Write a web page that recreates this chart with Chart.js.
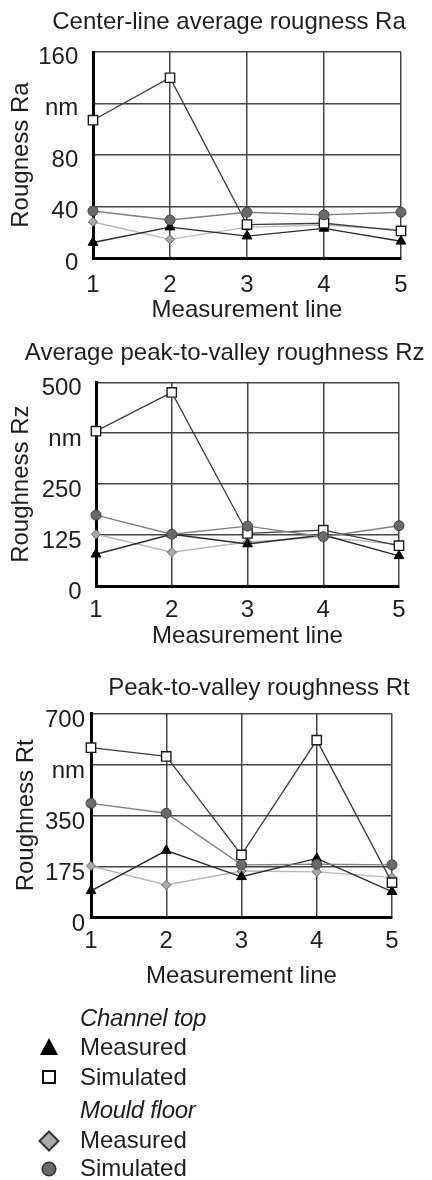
<!DOCTYPE html>
<html><head><meta charset="utf-8">
<script src="https://cdn.jsdelivr.net/npm/chart.js@4.4.1/dist/chart.umd.min.js"></script>
<style>
html,body{margin:0;padding:0;background:#fff;width:432px;height:1180px;overflow:hidden;position:relative;}
canvas{position:absolute;left:0;}
#legend{position:absolute;left:0;top:0;width:432px;height:1180px;font-family:"Liberation Sans",Arial,sans-serif;font-size:24px;color:#1e1e1e;}
.row{position:absolute;left:80px;white-space:nowrap;line-height:28px;height:28px;}
.hdr{font-style:italic;letter-spacing:-0.3px;}
.mk{position:absolute;}
</style></head><body>
<canvas id="c1" width="432" height="330" style="top:0px"></canvas>
<canvas id="c2" width="432" height="330" style="top:330px"></canvas>
<canvas id="c3" width="432" height="340" style="top:660px"></canvas>
<div id="legend">
  <div class="row hdr" style="top:1004px">Channel top</div>
  <svg class="mk" style="left:40px;top:1038px" width="18" height="17"><polygon points="9,0 18,17 0,17" fill="#000"/></svg>
  <div class="row" style="top:1033px">Measured</div>
  <svg class="mk" style="left:42px;top:1070px" width="14" height="14"><rect x="1" y="1" width="12" height="12" fill="#fff" stroke="#111" stroke-width="2"/></svg>
  <div class="row" style="top:1063px">Simulated</div>
  <div class="row hdr" style="top:1096px">Mould floor</div>
  <svg class="mk" style="left:38px;top:1130px" width="22" height="22"><polygon points="11,1.5 20.5,11 11,20.5 1.5,11" fill="#aaa" stroke="#333" stroke-width="2"/></svg>
  <div class="row" style="top:1126px">Measured</div>
  <svg class="mk" style="left:41px;top:1161px" width="16" height="16"><circle cx="8" cy="8" r="6.8" fill="#6a6a6a" stroke="#333" stroke-width="1.5"/></svg>
  <div class="row" style="top:1154px">Simulated</div>
</div>
<script>
// ---- data ----
const measurementLines = ['1', '2', '3', '4', '5'];

// Center-line average roughness Ra (nm)
const raChannelTopMeasured = [12, 24, 17, 23, 13];
const raChannelTopSimulated = [107, 140, 26, 27, 21];
const raMouldFloorMeasured = [28, 14.5, 24, 25.5, 22];
const raMouldFloorSimulated = [36.5, 29.5, 35.5, 33.5, 35.5];
const raTickLabels = ['0', '40', '80', 'nm', '160'];

// Average peak-to-valley roughness Rz (nm)
const rzChannelTopMeasured = [78, 127, 103, 125, 74];
const rzChannelTopSimulated = [380, 475, 129, 137, 99];
const rzMouldFloorMeasured = [127, 83, 108, 120, 102];
const rzMouldFloorSimulated = [174, 127, 147, 121, 148];
const rzTickLabels = ['0', '125', '250', 'nm', '500'];

// Peak-to-valley roughness Rt (nm)
const rtChannelTopMeasured = [91, 229, 139, 202, 88];
const rtChannelTopSimulated = [582, 552, 214, 608, 119];
const rtMouldFloorMeasured = [176, 111, 159, 156, 137];
const rtMouldFloorSimulated = [391, 357, 180, 182, 180];
const rtTickLabels = ['0', '175', '350', 'nm', '700'];

// ---- styling ----
const FONT = '"Liberation Sans", Arial, sans-serif';
const TXT = '#1e1e1e';
const GRID = '#454545';

function datasets(topM, topS, floorM, floorS) {
  return [
    { label: 'Channel top Measured', data: topM, order: 2,
      borderColor: '#2a2a2a', borderWidth: 1.4, pointStyle: 'triangle', pointRadius: 5.6,
      pointBackgroundColor: '#000', pointBorderColor: '#000', pointBorderWidth: 1 },
    { label: 'Channel top Simulated', data: topS, order: 1,
      borderColor: '#3c3c3c', borderWidth: 1.3, pointStyle: 'rect', pointRadius: 6.6,
      pointBackgroundColor: '#fff', pointBorderColor: '#1a1a1a', pointBorderWidth: 1.4 },
    { label: 'Mould floor Measured', data: floorM, order: 3,
      borderColor: '#b8b8b8', borderWidth: 1.4, pointStyle: 'rectRot', pointRadius: 4.6,
      pointBackgroundColor: '#a8a8a8', pointBorderColor: '#6a6a6a', pointBorderWidth: 1 },
    { label: 'Mould floor Simulated', data: floorS, order: 0,
      borderColor: '#808080', borderWidth: 1.4, pointStyle: 'circle', pointRadius: 5,
      pointBackgroundColor: '#6a6a6a', pointBorderColor: '#444', pointBorderWidth: 1 }
  ].map(d => Object.assign(d, { tension: 0, fill: false, clip: false, pointHoverRadius: d.pointRadius }));
}

function makeChart(id, c) {
  const font = { family: FONT, size: 24, weight: 'normal' };
  new Chart(document.getElementById(id), {
    type: 'line',
    data: { labels: measurementLines, datasets: datasets(c.topM, c.topS, c.floorM, c.floorS) },
    options: {
      responsive: false, animation: false, devicePixelRatio: 1,
      layout: { padding: { left: 0, right: c.rightPad, top: 0, bottom: 0 } },
      plugins: {
        legend: { display: false }, tooltip: { enabled: false },
        title: { display: true, text: c.title, color: TXT, font: font,
                 padding: { top: c.tTop, bottom: c.tBot } }
      },
      scales: {
        x: {
          type: 'category', offset: false,
          grid: { color: GRID, lineWidth: 1.5, drawTicks: false },
          border: { color: '#000', width: 3 },
          ticks: { color: TXT, font: font, padding: c.xTickPad, maxRotation: 0, autoSkip: false },
          title: { display: true, text: 'Measurement line', color: TXT, font: font,
                   padding: { top: 0, bottom: c.xTitlePad } },
          afterFit: s => { s.height = c.xH; }
        },
        y: {
          min: 0, max: c.max,
          grid: { color: GRID, lineWidth: 1.5, drawTicks: false },
          border: { color: '#000', width: 3 },
          ticks: { stepSize: c.step, color: TXT, font: font, padding: c.yTickPad,
                   labelOffset: c.yLabOff, autoSkip: false,
                   callback: (v, i) => c.ticks[i] },
          title: { display: true, text: c.yTitle, color: TXT, font: font,
                   padding: { top: c.yTitlePad, bottom: 0 } },
          afterFit: s => { s.width = c.left; }
        },
        pad: {
          type: 'linear', position: 'right', display: true,
          grid: { display: false, drawTicks: false }, border: { display: false },
          ticks: { display: false },
          afterFit: s => { s.width = c.rightW; }
        }
      }
    }
  });
}

makeChart('c1', {
  title: 'Center-line average rougness Ra', yTitle: 'Rougness Ra',
  topM: raChannelTopMeasured, topS: raChannelTopSimulated,
  floorM: raMouldFloorMeasured, floorS: raMouldFloorSimulated,
  ticks: raTickLabels, max: 160, step: 40,
  rightPad: -26, rightW: 57, left: 93,
  tTop: 8, tBot: 15.2, xH: 72, xTickPad: 13.4, xTitlePad: 5.6,
  yTickPad: 14.7, yLabOff: 5, yTitlePad: 7
});
makeChart('c2', {
  title: 'Average peak-to-valley roughness Rz', yTitle: 'Roughness Rz',
  topM: rzChannelTopMeasured, topS: rzChannelTopSimulated,
  floorM: rzMouldFloorMeasured, floorS: rzMouldFloorSimulated,
  ticks: rzTickLabels, max: 500, step: 125,
  rightPad: -17.4, rightW: 50.4, left: 96,
  tTop: 9, tBot: 14.5, xH: 74, xTickPad: 9.6, xTitlePad: 8.9,
  yTickPad: 14.3, yLabOff: 6, yTitlePad: 7
});
makeChart('c3', {
  title: 'Peak-to-valley roughness Rt', yTitle: 'Roughness Rt',
  topM: rtChannelTopMeasured, topS: rtChannelTopSimulated,
  floorM: rtMouldFloorMeasured, floorS: rtMouldFloorSimulated,
  ticks: rtTickLabels, max: 700, step: 175,
  rightPad: -86, rightW: 126, left: 91,
  tTop: 14.3, tBot: 10.2, xH: 82.7, xTickPad: 10, xTitlePad: 8.9,
  yTickPad: 6, yLabOff: 7, yTitlePad: 12
});
</script>
</body></html>
